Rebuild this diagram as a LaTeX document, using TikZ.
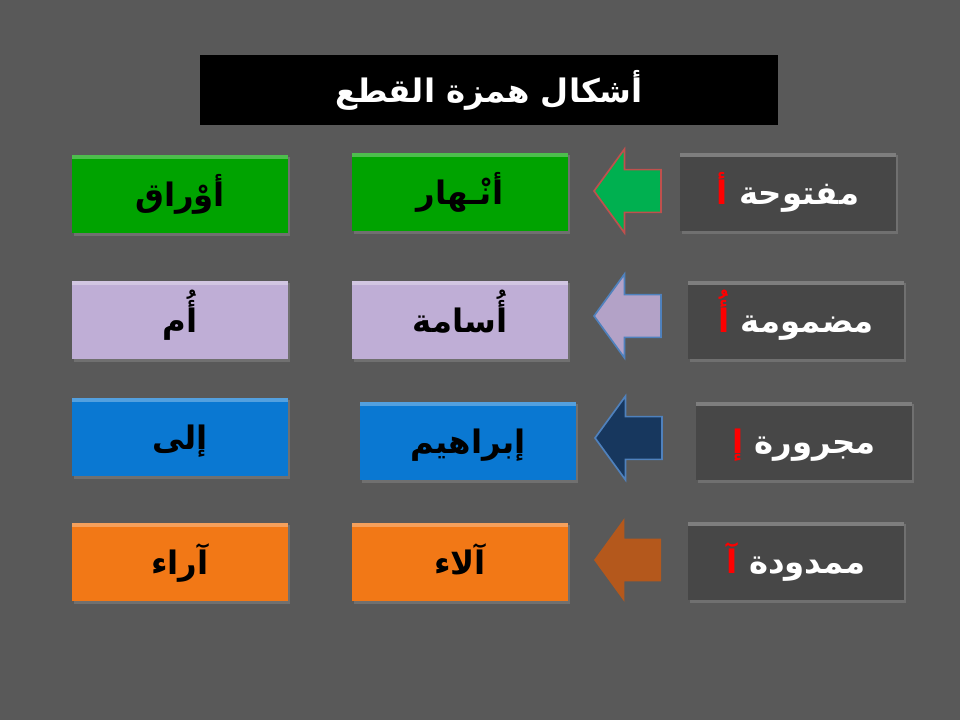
\documentclass[tikz,border=0pt]{standalone}
\usepackage{fontspec}
\usepackage{tikz}
\usetikzlibrary{shapes}
\usetikzlibrary{shapes.arrows}
\usetikzlibrary{shadows}
\usetikzlibrary{positioning}
\TeXXeTstate=1
\newfontfamily\arabicfont[Script=Arabic]{DejaVu Sans}
\newcommand \ar [1] {\arabicfont\bfseries\beginR #1\endR}
\newcommand \kindof [2] {{\arabicfont\bfseries\textcolor{red}{\beginR #2\endR}\ \beginR #1\endR}}
\definecolor{slide}{HTML}{595959}
\definecolor{kind}{HTML}{474747}
\definecolor{grn}{HTML}{00A300}
\definecolor{lav}{HTML}{BFAED6}
\definecolor{blu}{HTML}{0A78D2}
\definecolor{org}{HTML}{F27816}
\tikzstyle{box}=[rectangle,minimum width=5.4cm,minimum height=1.97cm,inner sep=0mm,
  text height=22pt,text depth=4pt,
  drop shadow={shadow xshift=1.2pt,shadow yshift=-1.5pt,opacity=0.6},
  path picture={\fill[white,opacity=0.3] (path picture bounding box.north west) rectangle ([yshift=-3pt]path picture bounding box.north east);},
  font=\fontsize{23}{26}\selectfont]
\tikzstyle{kindbox}=[box,fill=kind,text=white]
\tikzstyle{wordbox}=[box,text=black]
\tikzstyle{pointer}=[single arrow,shape border rotate=180,anchor=tip,minimum height=1.675cm,
  minimum width=2.05cm,single arrow head extend=0.5125cm,single arrow tip angle=108,inner sep=0.5125cm,line width=1.2pt]

\begin{document}
\begin{tikzpicture}[x=0.025cm,y=-0.025cm]
        \useasboundingbox[fill=slide] (0,0) rectangle (960,720);
        \node[rectangle,fill=black,minimum width=14.45cm,minimum height=1.75cm,text=white,
          text height=22pt,text depth=4pt,font=\fontsize{23}{26}\selectfont] at (489,90) (title) {\ar{أشكال همزة القطع}};
        % first row
        \node[kindbox] at (788,192) (k1) {\kindof{مفتوحة}{أ}};
        \node[pointer,fill={rgb,255:red,0;green,176;blue,80},draw={rgb,255:red,192;green,80;blue,77}] at (593,191) (p1) {};
        \node[wordbox,fill=grn] at (460,192) (w1) {\ar{أنْـهار}};
        \node[wordbox,fill=grn] at (180,194) (v1) {\ar{أوْراق}};
        % second row
        \node[kindbox] at (796,320) (k2) {\kindof{مضمومة}{أُ}};
        \node[pointer,fill={rgb,255:red,179;green,162;blue,199},draw={rgb,255:red,79;green,129;blue,189}] at (593,316) (p2) {};
        \node[wordbox,fill=lav] at (460,320) (w2) {\ar{أُسامة}};
        \node[wordbox,fill=lav] at (180,320) (v2) {\ar{أُم}};
        % third row
        \node[kindbox] at (804,441) (k3) {\kindof{مجرورة}{إ}};
        \node[pointer,fill={rgb,255:red,23;green,55;blue,94},draw={rgb,255:red,79;green,129;blue,189}] at (594,438) (p3) {};
        \node[wordbox,fill=blu] at (468,441) (w3) {\ar{إبراهيم}};
        \node[wordbox,fill=blu] at (180,437) (v3) {\ar{إلى}};
        % fourth row
        \node[kindbox] at (796,561) (k4) {\kindof{ممدودة}{آ}};
        \node[pointer,fill={rgb,255:red,180;green,88;blue,28}] at (593,560) (p4) {};
        \node[wordbox,fill=org] at (460,562) (w4) {\ar{آلاء}};
        \node[wordbox,fill=org] at (180,562) (v4) {\ar{آراء}};
      \end{tikzpicture}
\end{document}
